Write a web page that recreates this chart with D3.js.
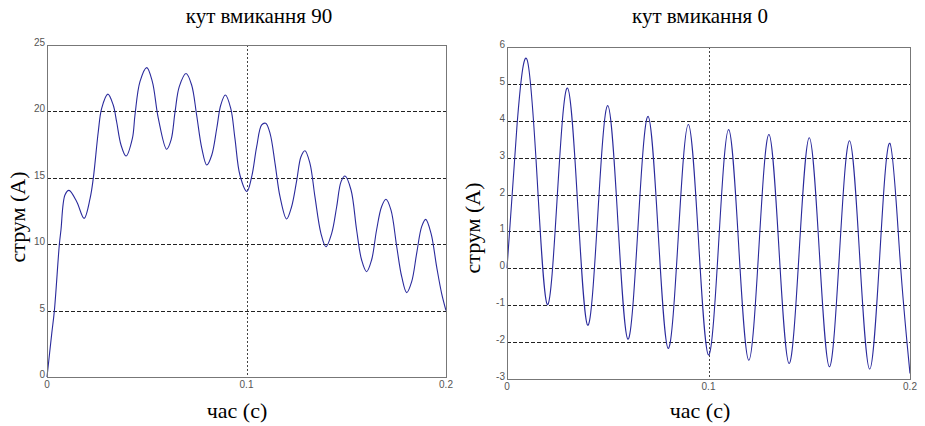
<!DOCTYPE html>
<html>
<head>
<meta charset="utf-8">
<script src="https://cdn.jsdelivr.net/npm/d3@7"></script>
<style>
  body { margin: 0; background: #fff; }
  svg { display: block; }
  .tick-label { font-family: "Liberation Sans", Arial, sans-serif; font-size: 10px; fill: #555; }
  .caption { font-family: Liberation Serif, DejaVu Serif, Times, serif; }
</style>
</head>
<body>
<svg id="chart" width="925" height="426"></svg>
<script>
'use strict';

// Switch-on angle 90: time (s) and current (A)
var timeLeft = [0, 0.0024, 0.0037, 0.0062, 0.0070, 0.0090, 0.0110, 0.0149, 0.0186, 0.0216,
  0.0232, 0.0257, 0.0274, 0.0305, 0.0332, 0.0349, 0.0371, 0.0396, 0.0428, 0.0441,
  0.0466, 0.0500, 0.0528, 0.0558, 0.0600, 0.0622, 0.0642, 0.0663, 0.0697, 0.0725,
  0.0750, 0.0776, 0.0801, 0.0826, 0.0851, 0.0871, 0.0894, 0.0921, 0.0942, 0.0967,
  0.1002, 0.1026, 0.1051, 0.1076, 0.1096, 0.1118, 0.1143, 0.1168, 0.1201, 0.1226,
  0.1252, 0.1273, 0.1293, 0.1318, 0.1343, 0.1373, 0.1398, 0.1427, 0.1452, 0.1474,
  0.1494, 0.1524, 0.1552, 0.1577, 0.1602, 0.1627, 0.1652, 0.1677, 0.1699, 0.1724,
  0.1753, 0.1778, 0.1803, 0.1828, 0.1853, 0.1878, 0.1898, 0.1925, 0.1953, 0.1978, 0.2000];
var currentLeft = [0, 3.3, 5.0, 10.0, 11.07, 13.7, 14.05, 13.2, 11.95, 13.45,
  14.96, 18.47, 20.23, 21.3, 20.48, 19.22, 17.47, 16.64, 17.97, 19.73,
  22.24, 23.3, 22.24, 19.48, 17.15, 17.85, 19.98, 21.86, 22.85, 21.99,
  19.73, 17.22, 15.96, 16.72, 18.73, 20.48, 21.23, 20.23, 17.97, 15.21,
  13.97, 15.08, 17.34, 18.98, 19.1, 18.35, 16.09, 13.58, 11.9, 12.82,
  14.83, 16.59, 17.04, 16.09, 13.58, 10.82, 9.81, 10.82, 12.82, 14.71,
  15.13, 14.08, 11.07, 8.81, 7.93, 8.81, 11.07, 12.82, 13.38, 12.58,
  9.81, 7.55, 6.35, 7.18, 9.31, 11.32, 11.87, 10.82, 8.31, 6.30, 5.0];

// Switch-on angle 0
var timeRight = [0, 0.005, 0.010, 0.015, 0.020, 0.025, 0.030, 0.035, 0.040, 0.045,
  0.050, 0.055, 0.060, 0.065, 0.070, 0.075, 0.080, 0.085, 0.090, 0.095,
  0.100, 0.105, 0.110, 0.115, 0.120, 0.125, 0.130, 0.135, 0.140, 0.145,
  0.150, 0.155, 0.160, 0.165, 0.170, 0.175, 0.180, 0.185, 0.190, 0.195, 0.200];
var currentRight = [0, 3.9, 5.65, 2.4, -0.98, 2.0, 4.89, 1.8, -1.54, 1.4,
  4.41, 1.3, -1.92, 1.1, 4.12, 1.0, -2.17, 0.85, 3.90, 0.8,
  -2.35, 0.65, 3.76, 0.6, -2.49, 0.55, 3.63, 0.5, -2.58, 0.45,
  3.54, 0.45, -2.67, 0.4, 3.46, 0.35, -2.73, 0.35, 3.39, 0.3, -2.85];

var xTicks = [0, 0.1, 0.2];
var xTickLabels = ['0', '0.1', '0.2'];
var yTicksLeft = [0, 5, 10, 15, 20, 25];
var yTicksRight = [-3, -2, -1, 0, 1, 2, 3, 4, 5, 6];
var xGrid = [0.1];
var yGridLeft = [5, 10, 15, 20];
var yGridRight = [-2, -1, 0, 1, 2, 3, 4, 5];

var titles = ['кут вмикання 90', 'кут вмикання 0'];
var xLabel = 'час (с)';
var yLabel = 'струм (А)';

var svg = d3.select('#chart');

/**
 * Draw one panel: frame, grid, tick labels, curve and captions
 */
function drawPanel(p) {
  var x = d3.scaleLinear().domain([0, 0.2]).range([p.left, p.right]);
  var y = d3.scaleLinear().domain(p.yDomain).range([p.bottom, p.top]);
  var g = svg.append('g');

  // horizontal grid
  g.selectAll('.hgrid').data(p.yGrid).enter().append('line')
    .attr('x1', p.left).attr('x2', p.right)
    .attr('y1', function(d) { return Math.round(y(d)) + 0.5; })
    .attr('y2', function(d) { return Math.round(y(d)) + 0.5; })
    .attr('stroke', '#222').attr('stroke-width', 1)
    .attr('stroke-dasharray', '4,2');

  // vertical grid
  g.selectAll('.vgrid').data(xGrid).enter().append('line')
    .attr('x1', function(d) { return Math.round(x(d)) + 0.5; })
    .attr('x2', function(d) { return Math.round(x(d)) + 0.5; })
    .attr('y1', p.top).attr('y2', p.bottom)
    .attr('stroke', '#444').attr('stroke-width', 1)
    .attr('stroke-dasharray', '2,2');

  var line = d3.line()
    .x(function(d) { return x(d[0]); })
    .y(function(d) { return y(d[1]); })
    .curve(p.curve);

  g.append('path')
    .datum(d3.zip(p.time, p.current))
    .attr('d', line)
    .attr('fill', 'none')
    .attr('stroke', '#2a2a9c')
    .attr('stroke-width', 1.1);

  // frame
  g.append('rect')
    .attr('x', p.left + 0.5).attr('y', p.top + 0.5)
    .attr('width', p.right - p.left).attr('height', p.bottom - p.top)
    .attr('fill', 'none').attr('stroke', '#777').attr('stroke-width', 1);

  // y tick labels sit just above their grid line
  g.selectAll('.ylab').data(p.yTicks).enter().append('text')
    .attr('class', 'tick-label')
    .attr('x', p.left - 2)
    .attr('y', function(d) { return y(d) + 1; })
    .attr('text-anchor', 'end')
    .text(function(d) { return d; });

  g.selectAll('.xlab').data(xTicks).enter().append('text')
    .attr('class', 'tick-label')
    .attr('x', function(d) { return x(d); })
    .attr('y', p.bottom + 11)
    .attr('text-anchor', 'middle')
    .text(function(d, i) { return xTickLabels[i]; });

  g.append('text').attr('class', 'caption')
    .attr('x', p.titleX).attr('y', 23)
    .attr('text-anchor', 'middle').attr('font-size', 21)
    .text(p.title);

  g.append('text').attr('class', 'caption')
    .attr('x', p.xLabelX).attr('y', 418)
    .attr('text-anchor', 'middle').attr('font-size', 22)
    .text(xLabel);

  g.append('text').attr('class', 'caption')
    .attr('transform', 'translate(' + p.yLabelX + ',' + p.yLabelY + ') rotate(-90)')
    .attr('text-anchor', 'middle').attr('font-size', 22)
    .text(yLabel);
}

drawPanel({
  left: 47, right: 446, top: 45, bottom: 377,
  yDomain: [0, 25], yTicks: yTicksLeft, yGrid: yGridLeft,
  time: timeLeft, current: currentLeft, curve: d3.curveCatmullRom,
  title: titles[0], titleX: 259, xLabelX: 237, yLabelX: 25, yLabelY: 217
});

drawPanel({
  left: 507, right: 910, top: 47, bottom: 379,
  yDomain: [-3, 6], yTicks: yTicksRight, yGrid: yGridRight,
  time: timeRight, current: currentRight, curve: d3.curveNatural,
  title: titles[1], titleX: 700, xLabelX: 700, yLabelX: 480, yLabelY: 228
});
</script>
</body>
</html>
